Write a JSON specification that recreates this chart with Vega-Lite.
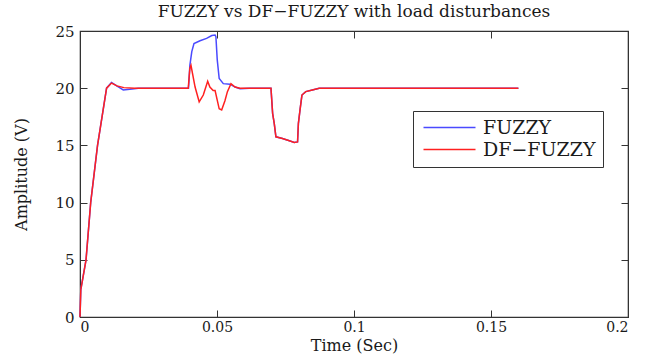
{
  "$schema": "https://vega.github.io/schema/vega-lite/v6.json",
  "width": 548,
  "height": 286,
  "autosize": {"type": "none"},
  "padding": {"left": 80, "top": 31, "right": 24, "bottom": 42},
  "background": "white",
  "config": {
    "view": {"stroke": "#333333", "strokeWidth": 1.2},
    "font": "DejaVu Serif"
  },
  "title": {
    "text": "FUZZY vs DF−FUZZY with load disturbances",
    "font": "DejaVu Serif",
    "fontSize": 17,
    "fontWeight": "normal",
    "color": "#1a1a1a",
    "offset": 3
  },
  "data": {
    "values": [
      {"t": 0, "v": 0, "s": "FUZZY"},
      {"t": 0.0003, "v": 2.4, "s": "FUZZY"},
      {"t": 0.0022, "v": 5, "s": "FUZZY"},
      {"t": 0.0039, "v": 10, "s": "FUZZY"},
      {"t": 0.0064, "v": 15, "s": "FUZZY"},
      {"t": 0.0097, "v": 20, "s": "FUZZY"},
      {"t": 0.0115, "v": 20.5, "s": "FUZZY"},
      {"t": 0.0134, "v": 20.2, "s": "FUZZY"},
      {"t": 0.0158, "v": 19.85, "s": "FUZZY"},
      {"t": 0.0182, "v": 19.9, "s": "FUZZY"},
      {"t": 0.0213, "v": 20, "s": "FUZZY"},
      {"t": 0.0396, "v": 20, "s": "FUZZY"},
      {"t": 0.0401, "v": 22.0, "s": "FUZZY"},
      {"t": 0.0408, "v": 23.2, "s": "FUZZY"},
      {"t": 0.0416, "v": 23.9, "s": "FUZZY"},
      {"t": 0.0438, "v": 24.15, "s": "FUZZY"},
      {"t": 0.0462, "v": 24.35, "s": "FUZZY"},
      {"t": 0.0481, "v": 24.6, "s": "FUZZY"},
      {"t": 0.0493, "v": 24.65, "s": "FUZZY"},
      {"t": 0.0496, "v": 24.5, "s": "FUZZY"},
      {"t": 0.0501, "v": 22.45, "s": "FUZZY"},
      {"t": 0.0508, "v": 20.85, "s": "FUZZY"},
      {"t": 0.0523, "v": 20.4, "s": "FUZZY"},
      {"t": 0.0547, "v": 20.35, "s": "FUZZY"},
      {"t": 0.0566, "v": 20.1, "s": "FUZZY"},
      {"t": 0.0584, "v": 19.95, "s": "FUZZY"},
      {"t": 0.0618, "v": 20, "s": "FUZZY"},
      {"t": 0.0697, "v": 20, "s": "FUZZY"},
      {"t": 0.0703, "v": 17.8, "s": "FUZZY"},
      {"t": 0.0709, "v": 16.9, "s": "FUZZY"},
      {"t": 0.0715, "v": 15.75, "s": "FUZZY"},
      {"t": 0.0739, "v": 15.6, "s": "FUZZY"},
      {"t": 0.0764, "v": 15.4, "s": "FUZZY"},
      {"t": 0.0782, "v": 15.25, "s": "FUZZY"},
      {"t": 0.0794, "v": 15.3, "s": "FUZZY"},
      {"t": 0.0797, "v": 16.9, "s": "FUZZY"},
      {"t": 0.0803, "v": 18.1, "s": "FUZZY"},
      {"t": 0.081, "v": 19.4, "s": "FUZZY"},
      {"t": 0.0824, "v": 19.7, "s": "FUZZY"},
      {"t": 0.0848, "v": 19.85, "s": "FUZZY"},
      {"t": 0.0873, "v": 20, "s": "FUZZY"},
      {"t": 0.16, "v": 20, "s": "FUZZY"},
      {"t": 0, "v": 0, "s": "DF−FUZZY"},
      {"t": 0.0003, "v": 2.4, "s": "DF−FUZZY"},
      {"t": 0.0022, "v": 5, "s": "DF−FUZZY"},
      {"t": 0.0039, "v": 10, "s": "DF−FUZZY"},
      {"t": 0.0064, "v": 15, "s": "DF−FUZZY"},
      {"t": 0.0097, "v": 20, "s": "DF−FUZZY"},
      {"t": 0.0115, "v": 20.45, "s": "DF−FUZZY"},
      {"t": 0.0135, "v": 20.2, "s": "DF−FUZZY"},
      {"t": 0.016, "v": 20.05, "s": "DF−FUZZY"},
      {"t": 0.02, "v": 20, "s": "DF−FUZZY"},
      {"t": 0.0395, "v": 20, "s": "DF−FUZZY"},
      {"t": 0.0401, "v": 21.75, "s": "DF−FUZZY"},
      {"t": 0.0405, "v": 22.0, "s": "DF−FUZZY"},
      {"t": 0.042, "v": 20.1, "s": "DF−FUZZY"},
      {"t": 0.0435, "v": 18.8, "s": "DF−FUZZY"},
      {"t": 0.045, "v": 19.4, "s": "DF−FUZZY"},
      {"t": 0.0466, "v": 20.6, "s": "DF−FUZZY"},
      {"t": 0.0474, "v": 20.1, "s": "DF−FUZZY"},
      {"t": 0.0486, "v": 19.8, "s": "DF−FUZZY"},
      {"t": 0.0493, "v": 19.8, "s": "DF−FUZZY"},
      {"t": 0.0508, "v": 18.2, "s": "DF−FUZZY"},
      {"t": 0.0517, "v": 18.1, "s": "DF−FUZZY"},
      {"t": 0.0529, "v": 18.9, "s": "DF−FUZZY"},
      {"t": 0.0538, "v": 19.7, "s": "DF−FUZZY"},
      {"t": 0.0551, "v": 20.4, "s": "DF−FUZZY"},
      {"t": 0.0566, "v": 20.1, "s": "DF−FUZZY"},
      {"t": 0.0584, "v": 20, "s": "DF−FUZZY"},
      {"t": 0.0697, "v": 20, "s": "DF−FUZZY"},
      {"t": 0.0703, "v": 17.8, "s": "DF−FUZZY"},
      {"t": 0.0709, "v": 16.9, "s": "DF−FUZZY"},
      {"t": 0.0715, "v": 15.75, "s": "DF−FUZZY"},
      {"t": 0.0739, "v": 15.6, "s": "DF−FUZZY"},
      {"t": 0.0764, "v": 15.4, "s": "DF−FUZZY"},
      {"t": 0.0782, "v": 15.25, "s": "DF−FUZZY"},
      {"t": 0.0794, "v": 15.3, "s": "DF−FUZZY"},
      {"t": 0.0797, "v": 16.9, "s": "DF−FUZZY"},
      {"t": 0.0803, "v": 18.1, "s": "DF−FUZZY"},
      {"t": 0.081, "v": 19.4, "s": "DF−FUZZY"},
      {"t": 0.0824, "v": 19.7, "s": "DF−FUZZY"},
      {"t": 0.0848, "v": 19.85, "s": "DF−FUZZY"},
      {"t": 0.0873, "v": 20, "s": "DF−FUZZY"},
      {"t": 0.16, "v": 20, "s": "DF−FUZZY"}
    ]
  },
  "layer": [
    {
      "mark": {"type": "line", "strokeWidth": 1.5, "interpolate": "linear"},
      "encoding": {
        "x": {
          "field": "t", "type": "quantitative",
          "scale": {"domain": [0, 0.2], "nice": false, "zero": false},
          "axis": {
            "values": [0, 0.05, 0.1, 0.15, 0.2], "format": "~g",
            "grid": false, "tickSize": -7, "tickColor": "#333333",
            "domainColor": "#333333", "labelPadding": 10,
            "labelFont": "DejaVu Serif", "labelFontSize": 14, "labelColor": "#1a1a1a",
            "title": "Time (Sec)", "titleFont": "DejaVu Serif", "titleFontSize": 16,
            "titleFontWeight": "normal", "titleColor": "#1a1a1a", "titlePadding": 3
          }
        },
        "y": {
          "field": "v", "type": "quantitative",
          "scale": {"domain": [0, 25], "nice": false, "zero": false},
          "axis": {
            "values": [0, 5, 10, 15, 20, 25],
            "grid": false, "tickSize": -7, "tickColor": "#333333",
            "domainColor": "#333333", "labelPadding": 13,
            "labelFont": "DejaVu Serif", "labelFontSize": 15, "labelColor": "#1a1a1a",
            "title": "Amplitude (V)", "titleFont": "DejaVu Serif", "titleFontSize": 16,
            "titleFontWeight": "normal", "titleColor": "#1a1a1a", "titlePadding": 25
          }
        },
        "color": {
          "field": "s", "type": "nominal",
          "scale": {"domain": ["FUZZY", "DF−FUZZY"], "range": ["#4a4aff", "#ff2020"]},
          "legend": {
            "title": null, "orient": "none", "legendX": 333, "legendY": 80,
            "symbolType": "M-4,0H4", "symbolSize": 169, "symbolStrokeWidth": 1.5,
            "symbolOffset": 20,
            "labelFont": "DejaVu Serif", "labelFontSize": 19, "labelColor": "#1a1a1a",
            "labelOffset": 24, "rowPadding": 2,
            "strokeColor": "#333333", "fillColor": "white", "padding": 7
          }
        },
        "order": {"field": "s", "sort": "descending"}
      }
    },
    {
      "mark": {"type": "line", "opacity": 0},
      "encoding": {
        "x": {
          "field": "t", "type": "quantitative",
          "axis": {"orient": "top", "values": [0, 0.05, 0.1, 0.15, 0.2], "labels": false, "title": null, "grid": false, "tickSize": -7, "tickColor": "#333333", "domainColor": "#333333"}
        },
        "y": {
          "field": "v", "type": "quantitative",
          "axis": {"orient": "right", "values": [0, 5, 10, 15, 20, 25], "labels": false, "title": null, "grid": false, "tickSize": -7, "tickColor": "#333333", "domainColor": "#333333"}
        },
        "detail": {"field": "s"}
      }
    }
  ],
  "resolve": {"axis": {"x": "independent", "y": "independent"}}
}
